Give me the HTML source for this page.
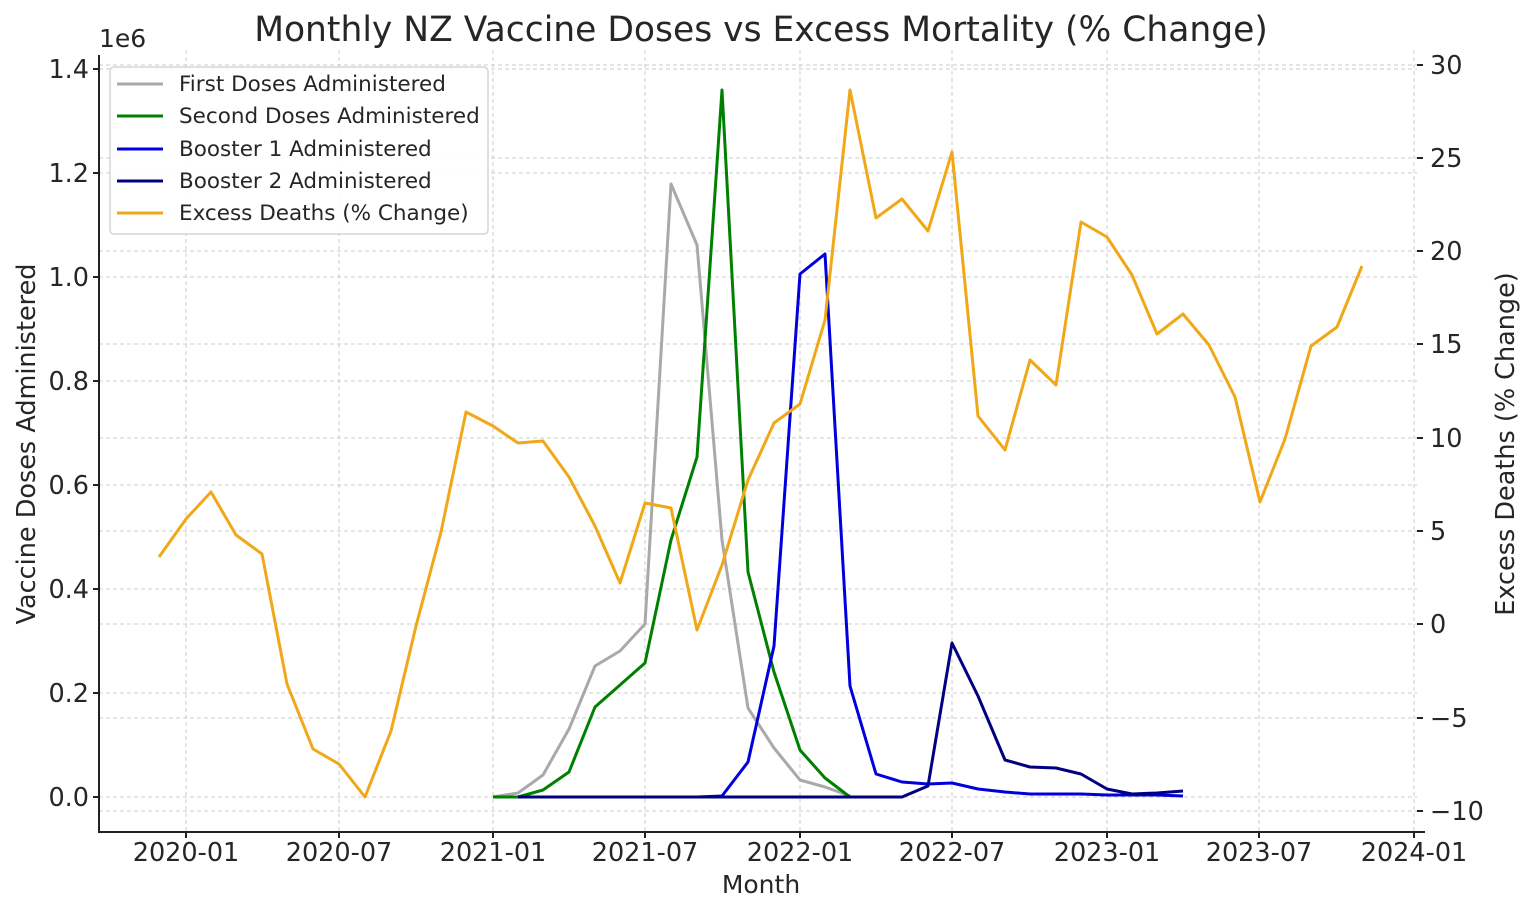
<!DOCTYPE html>
<html><head><meta charset="utf-8"><style>
html,body{margin:0;padding:0;background:#fff;width:1536px;height:915px;overflow:hidden}
svg text{font-family:"DejaVu Sans","Liberation Sans",sans-serif;fill:#262626}
</style></head><body>
<svg width="1536" height="915" viewBox="0 0 1536 915">
<g stroke="#cccccc" stroke-width="1" stroke-dasharray="4,3" fill="none">
<path d="M186 50V832M339 50V832M493 50V832M645 50V832M800 50V832M952 50V832M1107 50V832M1259 50V832M1414 50V832"/>
<path d="M99 797H1417M99 693H1417M99 589H1417M99 485H1417M99 381H1417M99 277H1417M99 173H1417M99 69H1417"/>
<path d="M99 811H1417M99 718H1417M99 624H1417M99 531H1417M99 438H1417M99 344H1417M99 251H1417M99 158H1417M99 65H1417"/>
</g>
<g fill="none" stroke-width="3" stroke-linejoin="round">
<polyline stroke="#a9a9a9" points="493,797 518,793 543,775 569,729 595,666 620,651 645,624 671,184 697,245 722,540 748,708 774,748 800,780 825,787 850,796"/>
<polyline stroke="#008000" points="493,797 518,797 543,790 569,772 595,707 620,685 645,663 671,540 697,457 722,90 748,572 774,672 800,750 825,778 850,797"/>
<polyline stroke="#0000dd" points="518,797 697,797 722,796 748,762 774,646 800,274 825,254 850,686 876,774 902,782 928,784 952,783 978,789 1005,792 1030,794 1056,794 1081,794 1107,795 1132,795 1157,795 1183,796"/>
<polyline stroke="#000080" points="518,797 902,797 928,786 952,643 978,696 1005,760 1030,767 1056,768 1081,774 1107,789 1132,794 1157,793 1183,791"/>
<polyline stroke="#f0a818" points="159,557 186,519 211,492 236,535 262,554 287,684 313,749 339,764 365,797 391,731 416,626 441,532 466,412 493,426 518,443 543,441 569,477 595,526 620,583 645,503 671,508 697,630 722,565 748,480 774,423 800,404 825,320 850,90 876,218 902,199 928,231 952,152 978,416 1005,450 1030,360 1056,385 1081,222 1107,237 1132,275 1157,334 1183,314 1209,345 1235,397 1260,502 1285,439 1311,346 1337,327 1362,266"/>
</g>
<g stroke="#222" stroke-width="2" fill="none">
<path d="M99 55V832H1425"/>
<path d="M93 797H99M93 693H99M93 589H99M93 485H99M93 381H99M93 277H99M93 173H99M93 69H99"/>
<path d="M186 832v6M339 832v6M493 832v6M645 832v6M800 832v6M952 832v6M1107 832v6M1259 832v6M1414 832v6"/>
<path d="M1417 811h6M1417 718h6M1417 624h6M1417 531h6M1417 438h6M1417 344h6M1417 251h6M1417 158h6M1417 65h6"/>
</g>
<g font-size="25.5" text-anchor="end">
<text x="89" y="806">0.0</text><text x="89" y="702">0.2</text><text x="89" y="598">0.4</text><text x="89" y="494">0.6</text><text x="89" y="390">0.8</text><text x="89" y="286">1.0</text><text x="89" y="182">1.2</text><text x="89" y="78">1.4</text>
</g>
<text x="99" y="47" font-size="25">1e6</text>
<g font-size="25.5" text-anchor="start">
<text x="1430" y="820">−10</text><text x="1430" y="727">−5</text><text x="1430" y="633">0</text><text x="1430" y="540">5</text><text x="1430" y="447">10</text><text x="1430" y="353">15</text><text x="1430" y="260">20</text><text x="1430" y="167">25</text><text x="1430" y="74">30</text>
</g>
<g font-size="25.5" text-anchor="middle">
<text x="186" y="861">2020-01</text><text x="339" y="861">2020-07</text><text x="493" y="861">2021-01</text><text x="645" y="861">2021-07</text><text x="800" y="861">2022-01</text><text x="952" y="861">2022-07</text><text x="1107" y="861">2023-01</text><text x="1259" y="861">2023-07</text><text x="1414" y="861">2024-01</text>
<text x="761" y="893" font-size="25">Month</text>
<text x="761" y="41" font-size="34.5">Monthly NZ Vaccine Doses vs Excess Mortality (% Change)</text>
<text transform="translate(35,444) rotate(-90)">Vaccine Doses Administered</text>
<text transform="translate(1514,444) rotate(-90)">Excess Deaths (% Change)</text>
</g>
<rect x="110" y="67" width="378" height="167" rx="4" fill="#fff" fill-opacity="0.85" stroke="#d5d5d5" stroke-width="1.5"/>
<g stroke-width="3">
<line x1="117" y1="84" x2="163" y2="84" stroke="#a9a9a9"/>
<line x1="117" y1="116" x2="163" y2="116" stroke="#008000"/>
<line x1="117" y1="149" x2="163" y2="149" stroke="#0000dd"/>
<line x1="117" y1="181" x2="163" y2="181" stroke="#000080"/>
<line x1="117" y1="213" x2="163" y2="213" stroke="#f0a818"/>
</g>
<g font-size="21.5">
<text x="179" y="91">First Doses Administered</text>
<text x="179" y="123">Second Doses Administered</text>
<text x="179" y="156">Booster 1 Administered</text>
<text x="179" y="188">Booster 2 Administered</text>
<text x="179" y="220">Excess Deaths (% Change)</text>
</g>
</svg>
</body></html>
